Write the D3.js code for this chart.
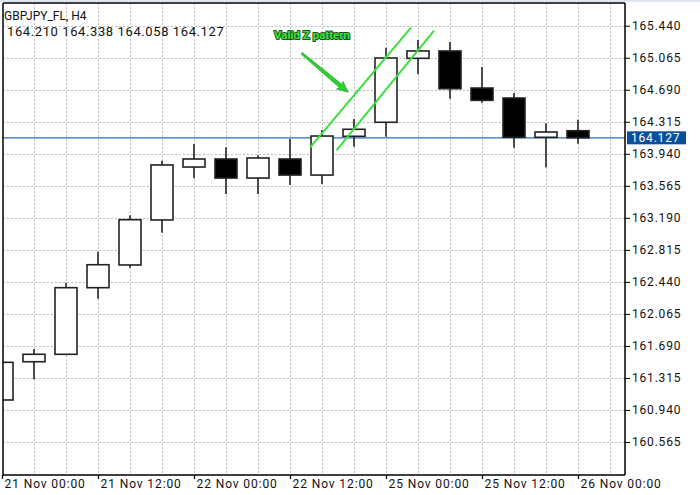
<!DOCTYPE html>
<html>
<head>
<meta charset="utf-8">
<script src="https://cdn.jsdelivr.net/npm/d3@7"></script>
<style>
  html, body { margin: 0; padding: 0; background: #fff; }
  svg { display: block; }
  text { font-family: Roboto, "Liberation Sans", Arial, sans-serif; fill: #111; }
</style>
</head>
<body>
<svg id="chart" width="700" height="495"></svg>
<script>
// ---- data ----
const symbol = "GBPJPY_FL, H4";
const timeLabels = ["21 Nov 00:00","21 Nov 04:00","21 Nov 08:00","21 Nov 12:00","21 Nov 16:00","21 Nov 20:00",
  "22 Nov 00:00","22 Nov 04:00","22 Nov 08:00","22 Nov 12:00","22 Nov 16:00","22 Nov 20:00",
  "25 Nov 00:00","25 Nov 04:00","25 Nov 08:00","25 Nov 12:00","25 Nov 16:00","25 Nov 20:00","26 Nov 00:00"];
const opens  = [161.057,161.505,161.592,162.372,162.638,163.165,163.785,163.879,163.656,163.879,163.691,164.145,164.309,165.058,165.144,164.710,164.593,164.133,164.210];
const highs  = [161.520,161.654,162.430,162.793,163.220,163.859,164.055,164.016,163.922,164.113,164.220,164.347,165.182,165.273,165.249,164.956,164.652,164.297,164.338];
const lows   = [161.020,161.299,161.584,162.243,162.606,163.016,163.653,163.469,163.469,163.574,163.586,164.023,164.140,164.871,164.585,164.538,164.011,163.782,164.058];
const closes = [161.498,161.592,162.372,162.641,163.168,163.809,163.879,163.656,163.891,163.691,164.148,164.227,165.062,165.144,164.702,164.566,164.133,164.195,164.127];
const yTicks = [165.440,165.065,164.690,164.315,163.940,163.565,163.190,162.815,162.440,162.065,161.690,161.315,160.940,160.565];
const xTickIdx = [0,3,6,9,12,15,18];
const lastPrice = 164.127;
const annotationText = "Valid Z pattern";
const channelLines = [ [[9.625,164.011],[12.78,165.417]], [[10.46,163.984],[13.5,165.381]] ];
const arrowPts = [[9.366,165.117],[10.82,164.660]];
const annotationPos = [8.5,165.29];

// ---- layout ----
const svg = d3.select("#chart");
const L = 3, R = 625, T = 3, B = 475;
const x = d3.scaleLinear().domain([0, 19.4375]).range([2, 624]);
const y = d3.scaleLinear().domain([160.565, 165.440]).range([442, 25.7]);
const candles = opens.map((o,i)=>({i, o, h:highs[i], l:lows[i], c:closes[i]}));

svg.append("rect").attr("x",0).attr("y",0).attr("width",700).attr("height",2).attr("fill","#dfe6ee");

svg.append("defs").append("clipPath").attr("id","plot")
  .append("rect").attr("x",L).attr("y",T).attr("width",R-L).attr("height",B-T);

const grid = svg.append("g");
grid.selectAll("line.v").data(d3.range(1,20)).join("line")
  .attr("x1",d=>Math.round(x(d))+0.5).attr("x2",d=>Math.round(x(d))+0.5)
  .attr("y1",T).attr("y2",B)
  .attr("stroke","#bcbcbc").attr("stroke-dasharray","2,2");
grid.selectAll("line.h").data(yTicks).join("line")
  .attr("x1",L).attr("x2",R)
  .attr("y1",d=>Math.round(y(d))+0.5).attr("y2",d=>Math.round(y(d))+0.5)
  .attr("stroke","#bcbcbc").attr("stroke-dasharray","2,2");

// current price line
svg.append("line").attr("x1",L).attr("x2",R)
  .attr("y1",y(lastPrice)).attr("y2",y(lastPrice))
  .attr("stroke","#2e6db4").attr("stroke-width",1.2);

// candles
const cg = svg.append("g").attr("clip-path","url(#plot)");
const bw = 22;
const cs = cg.selectAll("g").data(candles).join("g");
cs.append("line")
  .attr("x1",d=>x(d.i)).attr("x2",d=>x(d.i))
  .attr("y1",d=>y(d.h)).attr("y2",d=>y(d.l))
  .attr("stroke","#222").attr("stroke-width",1.6);
cs.append("rect")
  .attr("x",d=>x(d.i)-bw/2).attr("width",bw)
  .attr("y",d=>y(Math.max(d.o,d.c)))
  .attr("height",d=>Math.max(1,Math.abs(y(d.o)-y(d.c))))
  .attr("fill",d=>d.c>=d.o?"#fff":"#000")
  .attr("stroke","#222").attr("stroke-width",1.6);

// frame
svg.append("line").attr("x1",L).attr("x2",L).attr("y1",T).attr("y2",B).attr("stroke","#000").attr("stroke-width",1.5);
svg.append("line").attr("x1",R).attr("x2",R).attr("y1",T).attr("y2",B).attr("stroke","#000").attr("stroke-width",1.5);
svg.append("line").attr("x1",L).attr("x2",R).attr("y1",T).attr("y2",T).attr("stroke","#000").attr("stroke-width",1.5);

// y axis
const yAxis = d3.axisRight(y).tickValues(yTicks).tickFormat(d3.format(".3f")).tickSize(5).tickPadding(2);
const ya = svg.append("g").attr("transform",`translate(${R},0)`).call(yAxis);
ya.select(".domain").remove();
ya.selectAll(".tick line").attr("stroke","#000");
ya.selectAll(".tick text").attr("font-size",12).attr("fill","#111")
  .attr("font-family","Roboto, sans-serif").style("letter-spacing","0.8px");

// x axis
const xAxis = d3.axisBottom(x).tickValues(xTickIdx).tickFormat(i=>timeLabels[i]).tickSize(4);
const xa = svg.append("g").attr("transform",`translate(0,${B})`).call(xAxis);
xa.select(".domain").remove();
svg.append("line").attr("x1",L).attr("x2",R).attr("y1",B).attr("y2",B).attr("stroke","#000").attr("stroke-width",1.5);
xa.selectAll(".tick line").attr("stroke","#000").attr("stroke-width",1.3);
xa.selectAll(".tick text").attr("font-size",12).attr("fill","#111")
  .attr("font-family","Roboto, sans-serif").style("letter-spacing","0.9px")
  .attr("text-anchor","start").attr("dx",2).attr("y",13).attr("dy","0");

// price label
const pl = svg.append("g");
pl.append("rect").attr("x",627).attr("y",y(lastPrice)-6.5).attr("width",59).attr("height",13).attr("fill","#0b4f9c");
pl.append("text").attr("x",631).attr("y",y(lastPrice)+4.5).attr("font-size",12)
  .style("fill","#fff").style("letter-spacing","0.8px").text(d3.format(".3f")(lastPrice));

// header
svg.append("text").attr("x",4).attr("y",19.5).attr("font-size",12).text(symbol);
svg.append("text").attr("x",7).attr("y",36).attr("font-size",13).style("letter-spacing","0.6px")
  .text([opens[18],highs[18],lows[18],closes[18]].map(d3.format(".3f")).join(" "));

// annotation
const green = "#3ce03c";
svg.append("g").selectAll("line").data(channelLines).join("line")
  .attr("x1",d=>x(d[0][0])).attr("y1",d=>y(d[0][1]))
  .attr("x2",d=>x(d[1][0])).attr("y2",d=>y(d[1][1]))
  .attr("stroke",green).attr("stroke-width",2);
{
  const x1=x(arrowPts[0][0]), y1=y(arrowPts[0][1]), x2=x(arrowPts[1][0]), y2=y(arrowPts[1][1]);
  const ang = Math.atan2(y2-y1,x2-x1), len=Math.hypot(x2-x1,y2-y1);
  const g = svg.append("g").attr("transform",`translate(${x1},${y1}) rotate(${ang*180/Math.PI})`);
  g.append("path").attr("d",`M0,-1 L${len-10},-2 L${len-11},-5 L${len},0 L${len-11},5 L${len-10},2 L0,1 Z`)
    .attr("fill","#2fd12f").attr("stroke","#1f9a1f").attr("stroke-width",0.6);
}
svg.append("text").attr("x",x(annotationPos[0])).attr("y",y(annotationPos[1]))
  .attr("font-family","'Liberation Sans', Arial, sans-serif").attr("font-weight","bold").attr("font-size",11.5)
  .style("fill","#44e044").style("stroke","#145214").style("stroke-width","2px").style("paint-order","stroke")
  .style("stroke-linejoin","round")
  .text(annotationText);
</script>
</body>
</html>
